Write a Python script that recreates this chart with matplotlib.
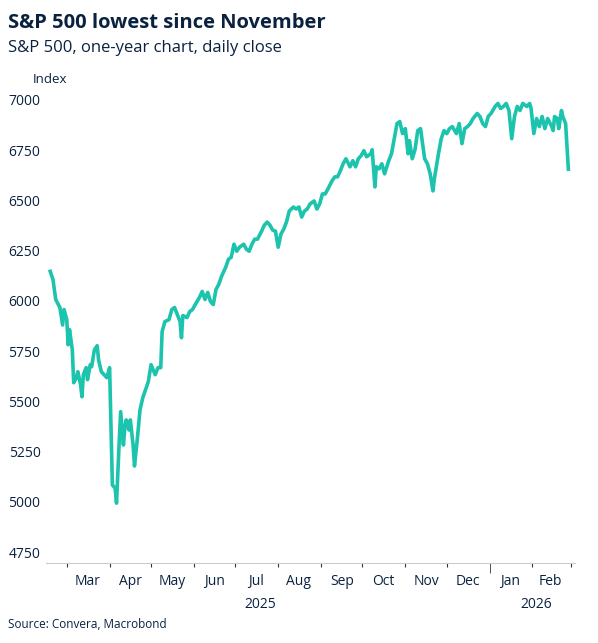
import matplotlib
matplotlib.use("Agg")
import matplotlib.pyplot as plt
import datetime as dt

plt.rcParams['font.family'] = ['Open Sans', 'DejaVu Sans']

start = dt.date(2025, 2, 17)
day_offsets = [0,2,4,7,9,10,12,13,14,16,17,19,20,22,23,24,26,27,29,30,32,34,35,37,39,41,43,45,47,48,50,51,53,54,55,57,58,60,61,63,65,67,69,71,73,76,78,80,81,83,86,88,90,92,94,95,96,99,101,103,105,108,110,112,114,116,118,120,122,124,127,129,131,133,135,137,140,142,144,146,148,150,153,155,157,159,161,163,165,167,169,171,173,176,178,180,182,184,186,188,191,193,195,197,199,201,204,206,208,210,212,214,217,219,221,223,225,227,229,232,233,235,236,238,240,242,245,247,249,251,253,255,257,259,260,262,264,266,268,271,273,275,277,278,281,283,285,287,289,291,294,296,298,300,302,304,306,309,311,313,315,317,319,322,324,326,328,330,332,334,336,338,340,342,345,347,348,350,352,354,356,358,360,363,364,365,367,368,370,371,373,375]
values = [6147,6107,6007,5967,5880,5957,5907,5782,5857,5757,5593,5618,5648,5583,5523,5633,5668,5608,5683,5673,5757,5777,5707,5648,5633,5618,5668,5084,5069,4994,5309,5449,5283,5368,5408,5358,5408,5283,5179,5309,5458,5518,5558,5598,5683,5633,5668,5668,5847,5897,5907,5957,5967,5932,5897,5817,5927,5917,5947,5957,5982,6017,6047,6007,6042,5997,5982,6057,6082,6122,6167,6207,6217,6282,6247,6267,6282,6257,6247,6282,6307,6307,6347,6377,6392,6377,6352,6347,6267,6332,6357,6392,6447,6467,6457,6467,6417,6447,6457,6482,6497,6457,6482,6532,6532,6557,6597,6617,6617,6647,6682,6707,6667,6697,6667,6707,6722,6747,6717,6732,6752,6567,6667,6657,6682,6632,6697,6732,6807,6882,6892,6832,6857,6732,6797,6707,6752,6847,6857,6707,6682,6632,6547,6607,6732,6807,6847,6832,6857,6867,6832,6882,6782,6857,6867,6882,6907,6932,6917,6882,6867,6917,6932,6967,6982,6957,6967,6982,6947,6807,6917,6967,6947,6982,6967,6982,6957,6832,6907,6867,6917,6857,6907,6867,6847,6917,6907,6857,6947,6917,6882,6655]
dates = [start + dt.timedelta(days=d) for d in day_offsets]

yticks = [4750, 5000, 5250, 5500, 5750, 6000, 6250, 6500, 6750, 7000]
navy = '#0a2240'

fig = plt.figure(figsize=(5.98, 6.43), dpi=100)
ax = fig.add_axes([0.077, 0.124, 0.885, 0.752])
ax.plot(dates, values, color='#1cc3ad', lw=2.6, solid_joinstyle='round')
ax.set_ylim(4695, 7100)
ax.set_xlim(dt.date(2025, 2, 14), dt.date(2026, 3, 4))
ax.set_yticks(yticks)
ax.set_yticklabels([str(v) for v in yticks], color=navy, fontsize=10)
for s in ['top', 'right', 'left']:
    ax.spines[s].set_visible(False)
ax.spines['bottom'].set_color('#cccccc')
ax.tick_params(axis='y', length=0, pad=4)

bounds = [dt.date(2025, m, 1) for m in range(3, 13)] + [dt.date(2026, 2, 1), dt.date(2026, 3, 1)]
ax.set_xticks(bounds)
ax.set_xticklabels([])
ax.set_xticks([dt.date(2026, 1, 1)], minor=True)
ax.tick_params(axis='x', which='major', length=3, color='#333333')
ax.tick_params(axis='x', which='minor', length=7, color='#333333')
months = ['Mar','Apr','May','Jun','Jul','Aug','Sep','Oct','Nov','Dec','Jan','Feb']
mids = [dt.date(2025, m, 16) for m in range(3, 13)] + [dt.date(2026, 1, 16), dt.date(2026, 2, 14)]
tr = ax.get_xaxis_transform()
for d, lab in zip(mids, months):
    ax.text(d, -0.022, lab, transform=tr, ha='center', va='top', fontsize=10, color=navy)
ax.text(dt.date(2025, 7, 19), -0.07, '2025', transform=tr, ha='center', va='top', fontsize=10, color=navy)
ax.text(dt.date(2026, 2, 4), -0.07, '2026', transform=tr, ha='center', va='top', fontsize=10, color=navy)

fig.text(0.013, 0.965, 'S&P 500 lowest since November', fontsize=14.5, fontweight='bold', color=navy, va='center')
fig.text(0.013, 0.925, 'S&P 500, one-year chart, daily close', fontsize=12, color=navy, va='center')
fig.text(0.055, 0.876, 'Index', fontsize=9.5, color=navy, va='center')
fig.text(0.013, 0.028, 'Source: Convera, Macrobond', fontsize=8.5, color=navy, va='center')
fig.savefig('out.png', dpi=100)
